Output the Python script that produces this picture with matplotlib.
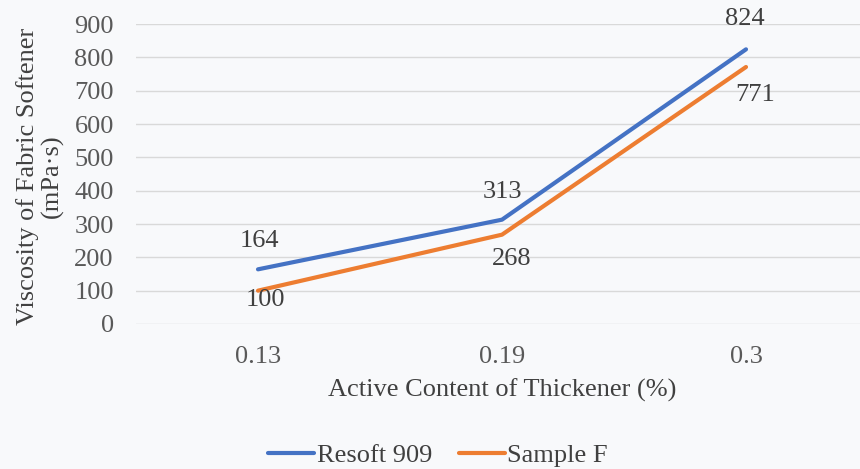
import matplotlib
matplotlib.use("Agg")
import matplotlib.pyplot as plt

categories = ["0.13", "0.19", "0.3"]
resoft = [164, 313, 824]
sample_f = [100, 268, 771]
yticks = [0, 100, 200, 300, 400, 500, 600, 700, 800, 900]

plt.rcParams['font.family'] = ['Liberation Serif', 'DejaVu Serif']
bg = '#F8F9FB'
fig = plt.figure(figsize=(8.6, 4.69), dpi=100, facecolor=bg)
ax = fig.add_axes([136/860, (469-324)/469, 732/860, 300/469], facecolor=bg)

x = list(range(len(categories)))
blue = '#4472C4'
orange = '#ED7D31'
ax.plot(x, resoft, color=blue, lw=3, label='Resoft 909', solid_capstyle='round', zorder=3)
ax.plot(x, sample_f, color=orange, lw=3, label='Sample F', solid_capstyle='round', zorder=3)

tc = '#404040'
fs = 19
# label offsets in pixels (dx, dy) relative to the data point
off_top = [(1, 28), (0, 28), (-1, 30)]
off_bot = [(7, -9), (10, -24), (9, -28)]
for xi, v, o in zip(x, resoft, off_top):
    ax.annotate(str(v), (xi, v), xytext=o, textcoords='offset pixels',
                ha='center', va='center', fontsize=fs, color=tc)
for xi, v, o in zip(x, sample_f, off_bot):
    ax.annotate(str(v), (xi, v), xytext=o, textcoords='offset pixels',
                ha='center', va='center', fontsize=fs, color=tc)

ax.set_xlim(-0.5, 2.5)
ax.set_ylim(0, 900)
ax.set_yticks(yticks)
ax.set_xticks(x)
ax.set_xticklabels(categories)
ax.tick_params(axis='both', length=0, labelsize=fs, labelcolor='#595959')
ax.tick_params(axis='x', pad=16)
ax.tick_params(axis='y', pad=16)
ax.grid(axis='y', color='#D9D9D9', lw=1)
ax.set_axisbelow(True)
for s in ax.spines.values():
    s.set_visible(False)

fig.text(502/860, 1 - 390/469, 'Active Content of Thickener (%)', fontsize=fs, color=tc,
         ha='center', va='center')
fig.text(40/860, 1 - 176/469, 'Viscosity of Fabric Softener\n(mPa·s)', fontsize=fs, color=tc,
         ha='center', va='center', rotation=90, linespacing=1.1, multialignment='center')

leg = fig.legend(loc='center', bbox_to_anchor=(438/860, 1 - 455/469), ncol=2, frameon=False,
                 fontsize=fs, handlelength=1.75, columnspacing=1.0, handletextpad=0.1)
for t in leg.get_texts():
    t.set_color(tc)

fig.savefig('out.png', dpi=100, facecolor=bg)
